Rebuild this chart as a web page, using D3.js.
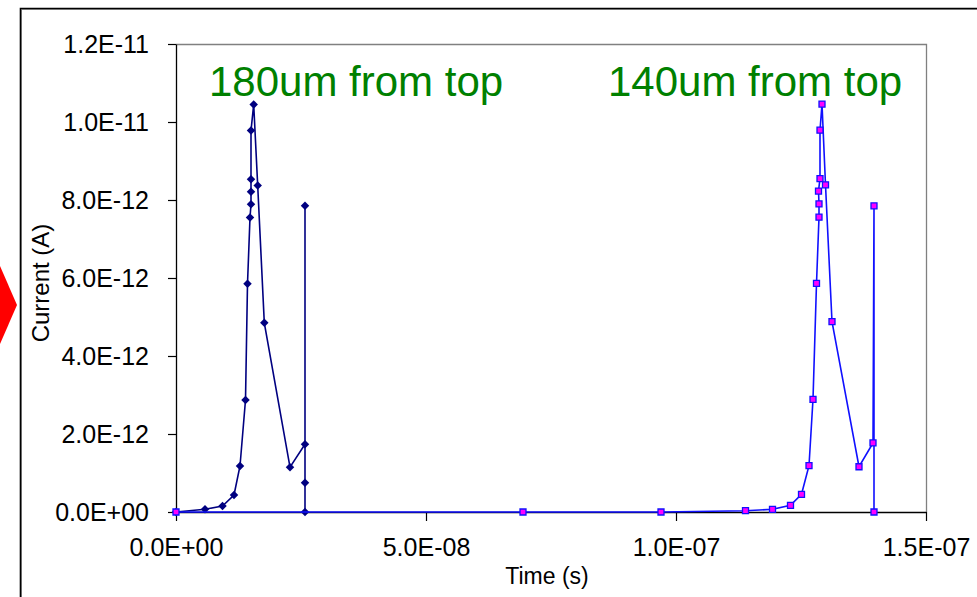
<!DOCTYPE html>
<html>
<head>
<meta charset="utf-8">
<script src="https://cdn.jsdelivr.net/npm/d3@7"></script>
<style>
  html, body { margin: 0; padding: 0; background: #fff; }
  svg { display: block; }
  text { font-family: Arial, "Liberation Sans", sans-serif; }
</style>
</head>
<body>
<svg id="chart" width="977" height="597"></svg>
<script>
// ---- Data ----
const time1 = [0, 5.8e-9, 9.3e-9, 1.16e-8, 1.28e-8, 1.39e-8, 1.43e-8, 1.48e-8, 1.50e-8, 1.50e-8,
               1.50e-8, 1.50e-8, 1.554e-8, 1.634e-8, 1.766e-8, 2.28e-8, 2.58e-8, 2.58e-8, 2.58e-8, 2.58e-8];
const current1 = [0, 6.9e-14, 1.54e-13, 4.36e-13, 1.18e-12, 2.87e-12, 5.85e-12, 7.55e-12, 7.89e-12, 8.21e-12,
                  8.53e-12, 9.78e-12, 1.045e-11, 8.37e-12, 4.85e-12, 1.15e-12, 1.74e-12, 7.85e-12, 7.5e-13, 0];

const time2 = [0, 6.94e-8, 9.70e-8, 1.139e-7, 1.193e-7, 1.229e-7, 1.251e-7, 1.266e-7, 1.274e-7, 1.281e-7,
               1.286e-7, 1.286e-7, 1.285e-7, 1.288e-7, 1.288e-7, 1.292e-7, 1.299e-7, 1.312e-7, 1.366e-7,
               1.394e-7, 1.396e-7, 1.396e-7];
const current2 = [0, 0, 0, 3.3e-14, 6.9e-14, 1.72e-13, 4.54e-13, 1.187e-12, 2.89e-12, 5.86e-12,
                  7.56e-12, 7.9e-12, 8.23e-12, 8.55e-12, 9.79e-12, 1.046e-11, 8.39e-12, 4.88e-12, 1.16e-12,
                  1.77e-12, 7.85e-12, 0];

const xTicks = [0, 5e-8, 1e-7, 1.5e-7];
const yTicks = [0, 2e-12, 4e-12, 6e-12, 8e-12, 1e-11, 1.2e-11];
const annotations = ["180um from top", "140um from top"];
const annotationTimes = [6.6e-9, 8.64e-8];
const xTitle = "Time (s)";
const yTitle = "Current (A)";

// ---- Layout ----
const svg = d3.select("#chart");
const plot = { left: 176, right: 926, top: 44, bottom: 512 };

const x = d3.scaleLinear().domain([0, 1.5e-7]).range([plot.left, plot.right]);
const y = d3.scaleLinear().domain([0, 1.2e-11]).range([plot.bottom, plot.top]);

function sci(v) {
  let s = d3.format(".1e")(v).toUpperCase();   // e.g. 1.2E-11, 0.0E+0
  return s.replace(/E([+-])(\d)$/, "E$10$2");
}

// Outer chart-area border (cropped at right / bottom)
svg.append("path").attr("d", "M21.5,597V9.5H977")
  .attr("fill", "none").attr("stroke", "#9a9a9a").attr("stroke-width", 1);
svg.append("path").attr("d", "M20.5,597V8.5H977")
  .attr("fill", "none").attr("stroke", "#000").attr("stroke-width", 1.6);

// Red arrow partially visible on the left edge
svg.append("path").attr("d", "M0,266L17,305L0,344Z").attr("fill", "#ff0000");

// Plot frame (gray top / right)
svg.append("path")
  .attr("d", `M${plot.left},${plot.top + 0.5}H${plot.right + 0.5}V${plot.bottom}`)
  .attr("fill", "none").attr("stroke", "#808080").attr("stroke-width", 1.3);

// Axes
const yAxis = d3.axisLeft(y).tickValues(yTicks).tickFormat(sci).tickSize(8).tickSizeOuter(0).tickPadding(19);
const xAxis = d3.axisBottom(x).tickValues(xTicks).tickFormat(sci).tickSize(9).tickSizeOuter(0).tickPadding(17);

const gy = svg.append("g").attr("transform", `translate(${plot.left},0)`).call(yAxis);
const gx = svg.append("g").attr("transform", `translate(0,${plot.bottom})`).call(xAxis);
[gy, gx].forEach(g => {
  g.select(".domain").attr("stroke", "#000").attr("stroke-width", 1.3);
  g.selectAll(".tick line").attr("stroke", "#000").attr("stroke-width", 1.2);
  g.selectAll(".tick text").attr("fill", "#000").style("font-size", "25px")
    .style("font-family", "Arial, 'Liberation Sans', sans-serif");
});

// Axis titles
svg.append("text").attr("x", (plot.left + plot.right) / 2 - 4).attr("y", 584)
  .attr("text-anchor", "middle").style("font-size", "23px").attr("fill", "#000").text(xTitle);
svg.append("text").attr("transform", `translate(49,${(plot.top + plot.bottom) / 2 + 5}) rotate(-90)`)
  .attr("text-anchor", "middle").style("font-size", "24px").attr("fill", "#000").text(yTitle);

// Series
const data1 = time1.map((t, i) => ({ t, c: current1[i] }));
const data2 = time2.map((t, i) => ({ t, c: current2[i] }));
const line = d3.line().x(d => x(d.t)).y(d => y(d.c));

const diamond = { draw(ctx, size) { const r = Math.sqrt(size) / 2;
  ctx.moveTo(0, -r); ctx.lineTo(r, 0); ctx.lineTo(0, r); ctx.lineTo(-r, 0); ctx.closePath(); } };

svg.append("path").datum(data1).attr("d", line)
  .attr("fill", "none").attr("stroke", "#000080").attr("stroke-width", 1.6);
svg.append("g").selectAll("path").data(data1).join("path")
  .attr("transform", d => `translate(${x(d.t)},${y(d.c)})`)
  .attr("d", d3.symbol().type(diamond).size(72))
  .attr("fill", "#000080");

svg.append("path").datum(data2).attr("d", line)
  .attr("fill", "none").attr("stroke", "#1010ff").attr("stroke-width", 1.6);
svg.append("g").selectAll("path").data(data2).join("path")
  .attr("transform", d => `translate(${x(d.t)},${y(d.c)})`)
  .attr("d", d3.symbol().type(d3.symbolSquare).size(36))
  .attr("fill", "#ff00ff").attr("stroke", "#1010ff").attr("stroke-width", 1.3);

// Annotations
svg.append("g").selectAll("text").data(annotations).join("text")
  .attr("x", (d, i) => x(annotationTimes[i]))
  .attr("y", 96)
  .style("font-size", "42px").attr("fill", "#008000")
  .text(d => d);
</script>
</body>
</html>
